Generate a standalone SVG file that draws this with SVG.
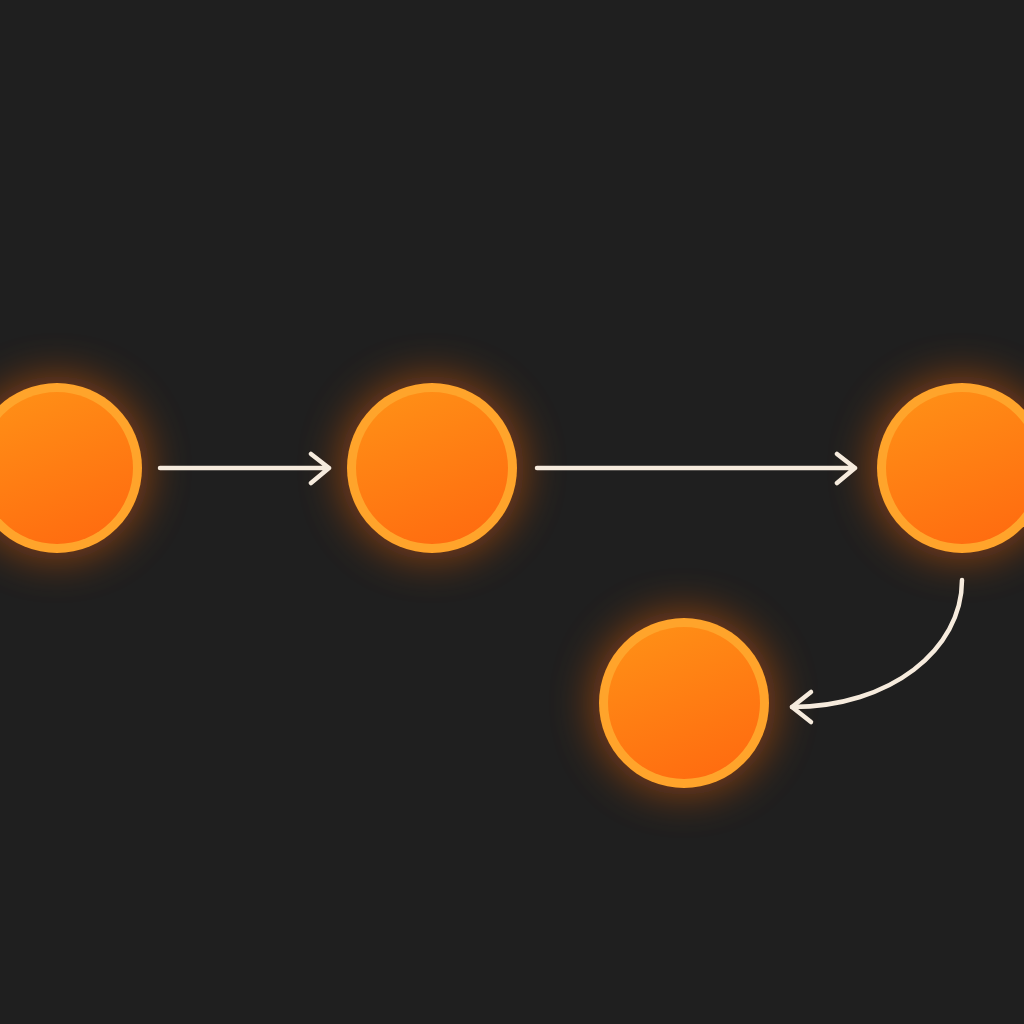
<svg xmlns="http://www.w3.org/2000/svg" width="1024" height="1024" viewBox="0 0 1024 1024">
<defs>
<linearGradient id="fill" x1="0.3" y1="0" x2="0.7" y2="1">
<stop offset="0" stop-color="#FF8E16"/>
<stop offset="1" stop-color="#FF6C10"/>
</linearGradient>
<filter id="glow" x="-60%" y="-60%" width="220%" height="220%">
<feGaussianBlur stdDeviation="20"/>
</filter>
<style>
.halo{fill:#E85F0C;opacity:0.5}
.ring{fill:#FFA42B}
.core{fill:url(#fill)}
.conn{fill:none;stroke:#F6EBDD;stroke-width:4.5;stroke-linecap:round;stroke-linejoin:round}
</style>
</defs>
<rect width="1024" height="1024" fill="#1F1F1F"/>
<g id="node1">
<circle class="halo" cx="57" cy="468" r="92" filter="url(#glow)"/>
<circle class="ring" cx="57" cy="468" r="85"/>
<circle class="core" cx="57" cy="468" r="76"/>
</g>
<g id="node2">
<circle class="halo" cx="432" cy="468" r="92" filter="url(#glow)"/>
<circle class="ring" cx="432" cy="468" r="85"/>
<circle class="core" cx="432" cy="468" r="76"/>
</g>
<g id="node3">
<circle class="halo" cx="962" cy="468" r="92" filter="url(#glow)"/>
<circle class="ring" cx="962" cy="468" r="85"/>
<circle class="core" cx="962" cy="468" r="76"/>
</g>
<g id="node4">
<circle class="halo" cx="684" cy="703" r="92" filter="url(#glow)"/>
<circle class="ring" cx="684" cy="703" r="85"/>
<circle class="core" cx="684" cy="703" r="76"/>
</g>
<g id="connectors">
<path class="conn" d="M160 468 H329 M311 454 L329 468 L311 483"/>
<path class="conn" d="M537 468 H855 M837 454 L855 468 L837 483"/>
<path class="conn" d="M962 580 C962 650 890 707 792 707"/>
<path class="conn" d="M811 692 L792 707 L811 722"/>
</g>
</svg>
